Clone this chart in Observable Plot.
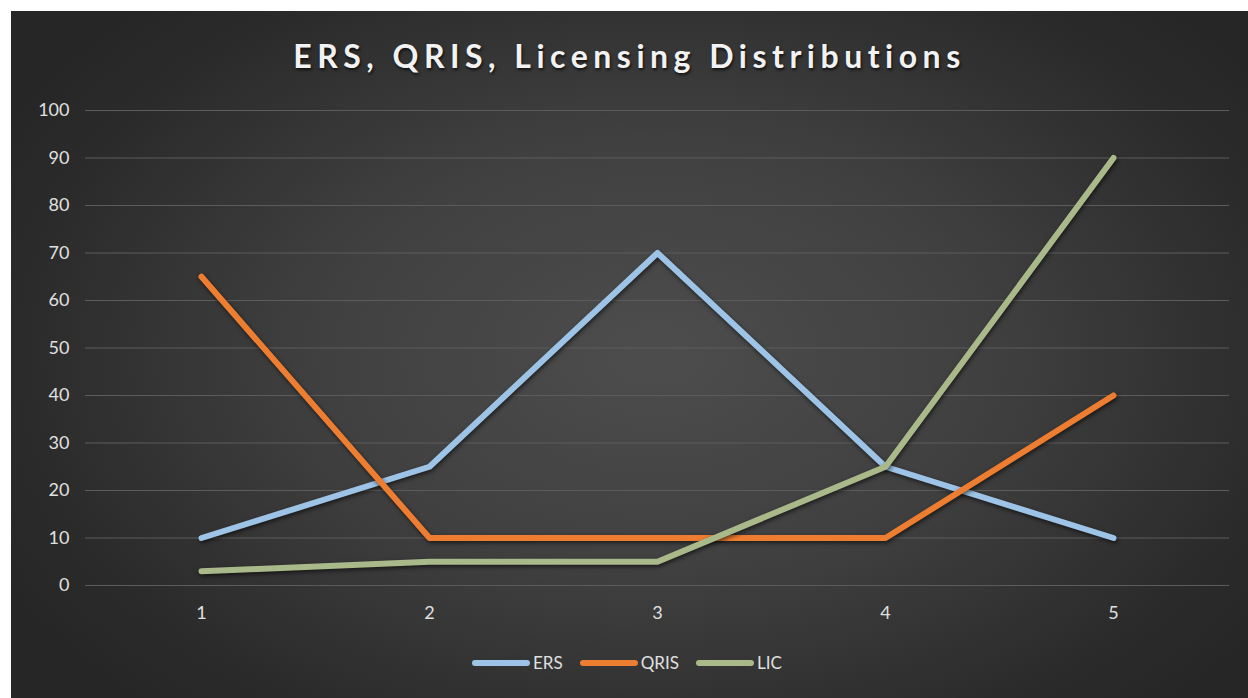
<!DOCTYPE html>
<html>
<head>
<meta charset="utf-8">
<script src="https://cdn.jsdelivr.net/npm/d3@7"></script>
<script src="https://cdn.jsdelivr.net/npm/@observablehq/plot@0.6"></script>
<style>
  html, body { margin: 0; padding: 0; background: #ffffff; }
  #chart {
    position: absolute; left: 11px; top: 11px; width: 1237px; height: 687px; overflow: hidden;
    background: radial-gradient(ellipse 60% 70% at 52% 50%, #4d4d4d 0%, #404040 45%, #2b2b2b 85%, #262626 100%);
    font-family: Lato, "DejaVu Sans", sans-serif;
  }
  #title {
    position: absolute; left: 0; width: 1237px; top: 25px; text-align: center;
    color: #f2f2f2; font-weight: 700; font-size: 32px; letter-spacing: 5.5px;
    text-shadow: 1px 2px 3px rgba(0,0,0,0.7);
  }
  #plot { position: absolute; left: 0; top: 69px; }
  #plot svg text { font-size: 18px; }
  #legend {
    position: absolute; top: 641px; left: 460px; display: flex; align-items: center;
    color: #e0e0e0; font-size: 17px;
  }
  #legend .item { display: flex; align-items: center; margin-right: 16px; }
  #legend svg { margin-right: 2px; }
</style>
</head>
<body>
<div id="chart">
  <div id="title">ERS, QRIS, Licensing Distributions</div>
  <div id="plot"></div>
  <div id="legend"></div>
</div>
<script>
const categories = [1, 2, 3, 4, 5];
const seriesNames = ["ERS", "QRIS", "LIC"];
const ers = [10, 25, 70, 25, 10];
const qris = [65, 10, 10, 10, 40];
const lic = [3, 5, 5, 25, 90];
const colors = ["#9dc3e6", "#ed7d31", "#a9b98a"];
const yTicks = [0, 10, 20, 30, 40, 50, 60, 70, 80, 90, 100];

const seriesValues = [ers, qris, lic];
const data = [];
seriesNames.forEach((s, i) => {
  categories.forEach((c, j) => data.push({ series: s, x: c, y: seriesValues[i][j] }));
});

const chart = Plot.plot({
  width: 1237,
  height: 545,
  marginLeft: 74,
  marginRight: 19,
  marginTop: 30,
  marginBottom: 40,
  style: { background: "transparent", color: "#e0e0e0", fontFamily: "Lato, 'DejaVu Sans', sans-serif", fontSize: "18px", overflow: "visible" },
  x: { type: "point", domain: categories, padding: 0.5, label: null },
  y: { domain: [0, 100], label: null },
  color: { domain: seriesNames, range: colors },
  marks: [
    Plot.gridY(yTicks, { stroke: "#5c5c5c", strokeOpacity: 1, strokeWidth: 1 }),
    Plot.axisY(yTicks, { tickSize: 0, tickPadding: 16, fill: "#e0e0e0", label: null }),
    Plot.axisX(categories, { tickSize: 0, tickPadding: 21, fill: "#e0e0e0", label: null }),
    Plot.line(data, {
      x: "x", y: "y", z: "series", stroke: "series",
      strokeWidth: 6, strokeLinecap: "round", strokeLinejoin: "round"
    })
  ]
});
chart.querySelectorAll("g[aria-label='line'] path").forEach(p => p.style.filter = "drop-shadow(1px 2px 2px rgba(0,0,0,0.6))");
document.getElementById("plot").appendChild(chart);

const legend = document.getElementById("legend");
seriesNames.forEach((s, i) => {
  const item = document.createElement("div");
  item.className = "item";
  item.innerHTML = `<svg width="60" height="10"><line x1="4" y1="5" x2="56" y2="5" stroke="${colors[i]}" stroke-width="6" stroke-linecap="round"/></svg><span>${s}</span>`;
  legend.appendChild(item);
});
</script>
</body>
</html>
